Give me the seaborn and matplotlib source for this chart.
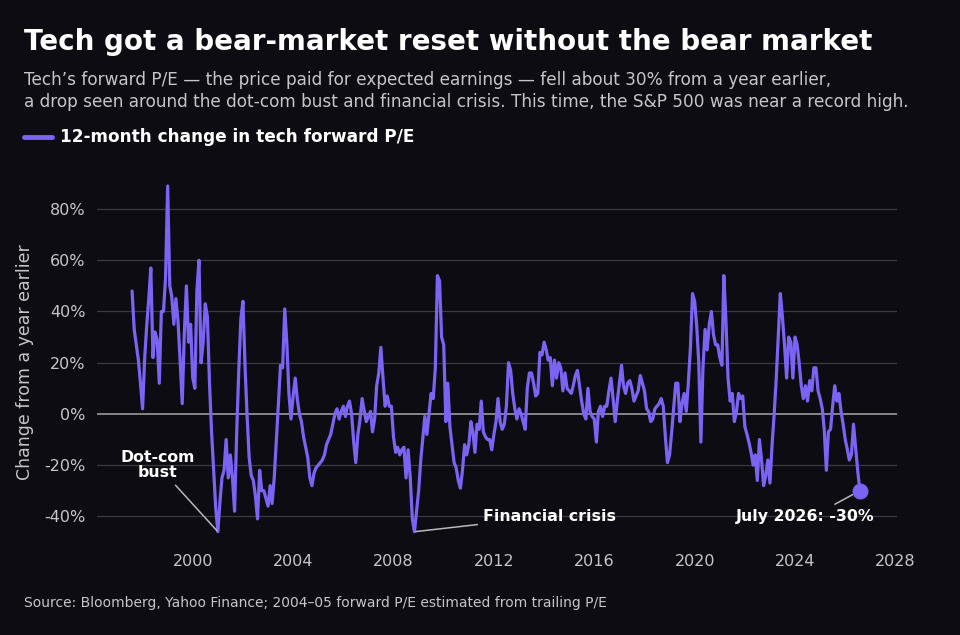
import numpy as np
import pandas as pd
import matplotlib
matplotlib.use("Agg")
import matplotlib.pyplot as plt
import matplotlib.dates as mdates
import seaborn as sns

# monthly 12-month change in tech forward P/E, %, Jul 1997 .. Jul 2026
start_month = "1997-07-31"
change = [
    48, 33, 27, 21, 12, 2, 22, 34, 45, 57,
    22, 32, 29, 12, 40, 40, 53, 89, 50, 46,
    35, 45, 36, 21, 4, 32, 50, 28, 35, 14,
    10, 48, 60, 20, 28, 43, 38, 12, -7, -22,
    -37, -46, -34, -25, -22, -10, -25, -16, -25, -38,
    -8, 17, 37, 44, 18, 0, -17, -24, -26, -32,
    -41, -22, -30, -30, -33, -36, -28, -35, -25, -11,
    4, 19, 18, 41, 28, 8, -2, 7, 14, 6,
    0, -3, -9, -13, -17, -25, -28, -23, -21, -20,
    -19, -18, -16, -12, -10, -8, -4, 0, 2, -2,
    1, 3, -1, 3, 5, 0, -11, -19, -8, -2,
    6, 1, -3, -1, 1, -7, -2, 11, 16, 26,
    14, 3, 7, 3, 3, -9, -15, -13, -16, -14,
    -13, -25, -14, -25, -41, -46, -38, -30, -18, -10,
    -1, -8, 0, 8, 6, 18, 54, 52, 30, 27,
    -3, 12, -5, -12, -19, -21, -26, -29, -22, -12,
    -16, -12, -3, -7, -15, -4, -6, 5, -7, -9,
    -10, -10, -14, -8, -3, 6, -3, -6, -4, 3,
    20, 17, 8, 2, -2, 2, 0, -3, -6, 10,
    16, 16, 12, 7, 8, 24, 23, 28, 25, 21,
    22, 11, 21, 14, 20, 18, 9, 16, 10, 9,
    8, 11, 15, 17, 11, 5, 0, -2, 10, 1,
    -1, -2, -11, 1, 3, -1, 3, 3, 9, 14,
    6, -3, 5, 12, 19, 11, 8, 12, 13, 10,
    5, 7, 9, 15, 12, 9, 2, 1, -3, -2,
    2, 3, 4, 6, 3, -9, -19, -16, -7, 2,
    12, 12, -3, 4, 8, 1, 12, 26, 47, 44,
    34, 20, -11, 18, 33, 25, 35, 40, 31, 27,
    27, 22, 19, 54, 36, 14, 5, 8, -3, 1,
    8, 6, 7, -5, -8, -11, -15, -20, -16, -26,
    -10, -18, -28, -24, -18, -27, -12, -1, 13, 30,
    47, 38, 27, 14, 30, 28, 14, 30, 27, 20,
    11, 6, 11, 5, 13, 9, 18, 18, 9, 6,
    2, -6, -22, -7, -6, 3, 11, 5, 8, 1,
    -4, -10, -14, -18, -16, -4, -13, -22, -30,
]
y_ticks = [-40, -20, 0, 20, 40, 60, 80]

dates = pd.date_range(start_month, periods=len(change), freq="ME")
df = pd.DataFrame({"date": dates, "change": change})

bg = "#0d0c12"
purple = "#7b63f4"
grey = "#c6c6ca"

sns.set_style("dark")
plt.rcParams["font.family"] = ["DejaVu Sans"]

fig = plt.figure(figsize=(9.6, 6.35), dpi=100, facecolor=bg)
ax = fig.add_axes([0.101, 0.1465, 0.833, 0.5848])
ax.set_facecolor(bg)

for t in y_ticks:
    ax.axhline(t, color="#9a9a9e" if t == 0 else "#3a3a40", lw=1.2 if t == 0 else 0.9, zorder=1)

sns.lineplot(data=df, x="date", y="change", color=purple, lw=2.3, ax=ax, zorder=3)

last = df.iloc[-1]
ax.scatter([last["date"]], [last["change"]], s=110, color=purple, zorder=4)

ax.set_xlim(pd.Timestamp("1996-03-07"), pd.Timestamp("2028-01-18"))
ax.set_ylim(-50, 95)
ax.set_yticks(y_ticks)
ax.set_yticklabels([f"{t}%" for t in y_ticks])
ax.xaxis.set_major_locator(mdates.YearLocator(4))
ax.xaxis.set_major_formatter(mdates.DateFormatter("%Y"))
ax.tick_params(axis="both", length=0, labelsize=11.5, labelcolor=grey)
ax.tick_params(axis="y", pad=8)
ax.tick_params(axis="x", pad=9)
ax.set_xlabel("")
ax.set_ylabel("")
ax.grid(False)
for s in ax.spines.values():
    s.set_visible(False)

line_kw = dict(arrowstyle="-", color="#b8b8bc", lw=1.1, shrinkA=2, shrinkB=1)
txt_kw = dict(color="white", fontsize=11.3, fontweight="bold")

dot_i = int(np.argmin(change[:60]))
ax.annotate("Dot-com\nbust", xy=(mdates.date2num(dates[dot_i]), change[dot_i]),
            xytext=(mdates.date2num(pd.Timestamp("1998-08-01")), -20),
            ha="center", va="center", linespacing=0.95, arrowprops=line_kw, **txt_kw)

fin_i = 120 + int(np.argmin(change[120:160]))
ax.annotate("Financial crisis", xy=(mdates.date2num(dates[fin_i]), change[fin_i]),
            xytext=(mdates.date2num(pd.Timestamp("2011-08-01")), -40),
            ha="left", va="center", arrowprops=line_kw, **txt_kw)

ax.annotate("July 2026: -30%", xy=(mdates.date2num(last["date"]), last["change"]),
            xytext=(mdates.date2num(pd.Timestamp("2024-06-01")), -40),
            ha="center", va="center",
            arrowprops=dict(line_kw, shrinkB=6, relpos=(0.65, 1.0)), **txt_kw)

fig.text(0.025, 0.934, "Tech got a bear-market reset without the bear market",
         color="white", fontsize=20, fontweight="bold", va="center")
fig.text(0.025, 0.857,
         "Tech\u2019s forward P/E \u2014 the price paid for expected earnings \u2014 fell about 30% from a year earlier,\n"
         "a drop seen around the dot-com bust and financial crisis. This time, the S&P 500 was near a record high.",
         color=grey, fontsize=12.2, va="center", linespacing=1.3)
fig.lines.append(plt.Line2D([0.025, 0.054], [0.785, 0.785], color=purple, lw=3.5,
                            transform=fig.transFigure))
fig.text(0.062, 0.785, "12-month change in tech forward P/E", color="white",
         fontsize=12.15, fontweight="bold", va="center")
fig.text(0.026, 1 - 362 / 635, "Change from a year earlier", color=grey, fontsize=12.5,
         rotation=90, ha="center", va="center")
fig.text(0.025, 1 - 603 / 635,
         "Source: Bloomberg, Yahoo Finance; 2004\u201305 forward P/E estimated from trailing P/E",
         color=grey, fontsize=10, va="center")

fig.savefig("out.png", dpi=100, facecolor=bg)
